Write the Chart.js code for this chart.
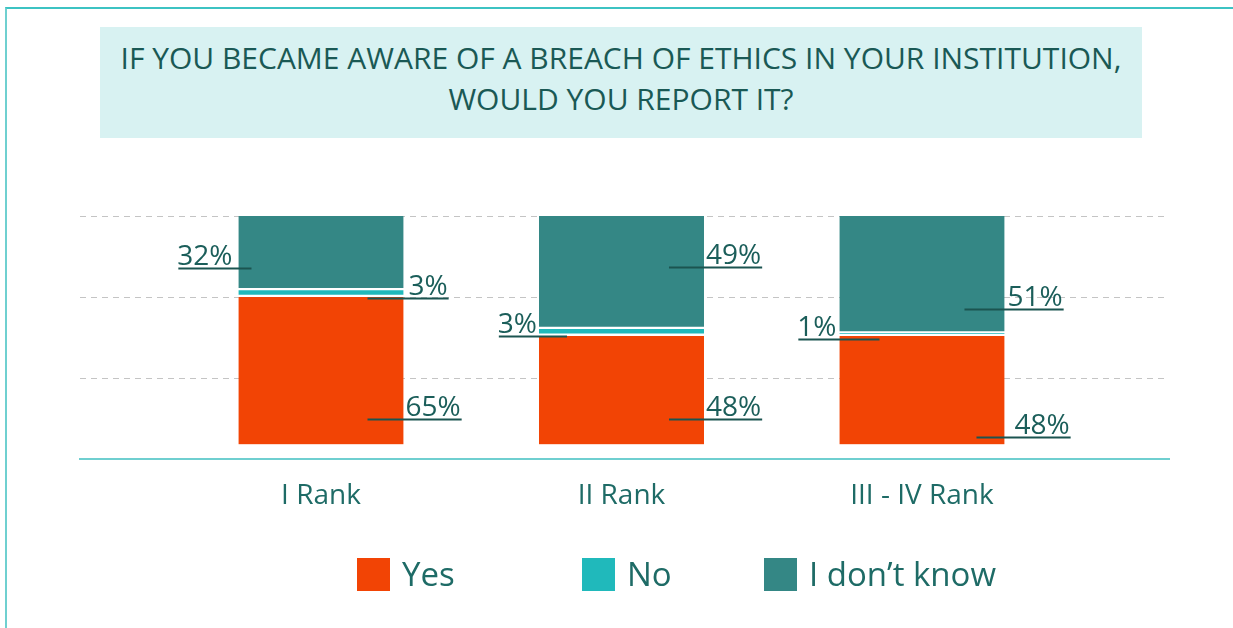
<!DOCTYPE html>
<html>
<head>
<meta charset="utf-8">
<title>Reporting a breach of ethics</title>
<script src="https://cdn.jsdelivr.net/npm/chart.js@4/dist/chart.umd.min.js"></script>
<style>
  html, body { margin: 0; padding: 0; background: #fff; }
  #page { position: relative; width: 1233px; height: 628px; overflow: hidden; font-family: "Open Sans", sans-serif; }
  #frame { position: absolute; left: 5px; top: 7px; right: -4px; bottom: -4px;
           border-top: 2px solid #3cc3c3; border-left: 2px solid #6fd0d0; }
  #titulo { position: absolute; left: 100px; top: 27px; width: 1042px; height: 111px;
            background: #d8f2f2; color: #1a5955; font-size: 30px; line-height: 41px;
            text-align: center; padding-top: 10px; box-sizing: border-box; }
  #grafico { position: absolute; left: 0; top: 0; }
  .legenda-item { position: absolute; top: 558px; display: flex; align-items: center;
                  font-size: 33px; color: #1e6b66; }
  .legenda-item span.caixa { width: 33px; height: 33px; margin-right: 12px; display: inline-block; }
  .legenda-item span.texto { line-height: 33px; margin-top: -3px; }
</style>
</head>
<body>
<div id="page">
  <div id="frame"></div>
  <div id="titulo">IF YOU BECAME AWARE OF A BREACH OF ETHICS IN YOUR INSTITUTION,<br>WOULD YOU REPORT IT?</div>
  <canvas id="grafico" width="1233" height="628"></canvas>
  <div id="legenda"></div>
</div>
<script>
// Dados
const categorias = ["I Rank", "II Rank", "III - IV Rank"];
const valoresSim = [65, 48, 48];
const valoresNao = [3, 3, 1];
const valoresNaoSei = [32, 49, 51];
const nomesSeries = ["Yes", "No", "I don\u2019t know"];
const coresSeries = ["#f24405", "#20b9bb", "#348785"];

// posicao dos rotulos (lado, deslocamento vertical, quanto a linha entra na barra, folga)
const posRotulos = [
    [ { lado: "R", dy: 49, dentro: 36, folga: 2 }, { lado: "R", dy: 29, dentro: 35, folga: 2 }, { lado: "R", dy: 47, dentro: 28, folga: 10 } ],
    [ { lado: "R", dy: 5, dentro: 36, folga: 5 },  { lado: "L", dy: 5, dentro: 28, folga: 2 },  { lado: "L", dy: 5, dentro: 40, folga: 3 } ],
    [ { lado: "L", dy: 15, dentro: 13, folga: 6 }, { lado: "R", dy: -5, dentro: 35, folga: 2 }, { lado: "R", dy: 35, dentro: 40, folga: 3 } ]
];
const posLegenda = [357, 582, 764];

const pontos = valores => valores.map((v, i) => ({ x: i, y: v }));

// Rotulos com linha de chamada
const rotulosPlugin = {
    id: "rotulos",
    afterDatasetsDraw(chart) {
        const ctx = chart.ctx;
        ctx.save();
        ctx.font = "28px 'Open Sans'";
        ctx.fillStyle = "#1b5e5a";
        ctx.strokeStyle = "#1b5450";
        ctx.lineWidth = 2;
        ctx.textBaseline = "alphabetic";
        chart.data.datasets.forEach((ds, d) => {
            const meta = chart.getDatasetMeta(d);
            meta.data.forEach((barra, i) => {
                const p = posRotulos[d][i];
                const texto = ds.data[i].y + "%";
                const w = ctx.measureText(texto).width;
                const esquerda = barra.x - barra.width / 2;
                const direita = barra.x + barra.width / 2;
                const yLinha = Math.round((barra.y + barra.base) / 2 + p.dy) + 0.5;
                let x0, x1;
                if (p.lado === "R") {
                    ctx.textAlign = "left";
                    ctx.fillText(texto, direita + p.folga, yLinha - 4);
                    x0 = direita - p.dentro;
                    x1 = direita + p.folga + w + 1;
                } else {
                    ctx.textAlign = "right";
                    ctx.fillText(texto, esquerda - p.folga, yLinha - 4);
                    x0 = esquerda - p.folga - w + 1;
                    x1 = esquerda + p.dentro;
                }
                ctx.beginPath();
                ctx.moveTo(x0, yLinha);
                ctx.lineTo(x1, yLinha);
                ctx.stroke();
            });
        });
        ctx.restore();
    }
};

const grafico = new Chart(document.getElementById("grafico"), {
    type: "bar",
    data: {
        datasets: [
            { label: nomesSeries[0], data: pontos(valoresSim), backgroundColor: coresSeries[0],
              borderColor: "#ffffff", borderWidth: { top: 1.5 }, borderSkipped: false },
            { label: nomesSeries[1], data: pontos(valoresNao), backgroundColor: coresSeries[1],
              borderColor: "#ffffff", borderWidth: { top: 1.5, bottom: 1.5 }, borderSkipped: false },
            { label: nomesSeries[2], data: pontos(valoresNaoSei), backgroundColor: coresSeries[2],
              borderColor: "#ffffff", borderWidth: { bottom: 1.5 }, borderSkipped: false }
        ]
    },
    options: {
        responsive: false,
        animation: false,
        layout: { padding: { left: 80, right: 64, top: 216, bottom: 95 } },
        barThickness: 165,
        plugins: {
            legend: { display: false },
            tooltip: { enabled: false }
        },
        scales: {
            x: {
                type: "linear",
                stacked: true,
                offset: false,
                min: -0.802,
                max: 2.822,
                afterBuildTicks: s => { s.ticks = categorias.map((c, i) => ({ value: i })); },
                grid: { display: false, drawTicks: false },
                border: { display: true, color: "#6fcfd0", width: 2 },
                ticks: {
                    callback: v => categorias[v],
                    padding: 20,
                    color: "#1e6b66",
                    font: { family: "Open Sans", size: 28 }
                }
            },
            y: {
                stacked: true,
                min: -6.58,
                max: 100,
                ticks: { display: false, count: 4 },
                grid: {
                    drawTicks: false,
                    color: c => c.index === 0 ? "rgba(0,0,0,0)" : "#c4c4c4",
                    lineWidth: 1
                },
                border: { display: false, dash: [6, 5] }
            }
        }
    },
    plugins: [rotulosPlugin]
});

// Legenda
const legenda = document.getElementById("legenda");
grafico.data.datasets.forEach((ds, i) => {
    const item = document.createElement("div");
    item.className = "legenda-item";
    item.style.left = posLegenda[i] + "px";
    item.innerHTML = '<span class="caixa" style="background:' + ds.backgroundColor + '"></span><span class="texto">' + ds.label + '</span>';
    legenda.appendChild(item);
});
</script>
</body>
</html>
